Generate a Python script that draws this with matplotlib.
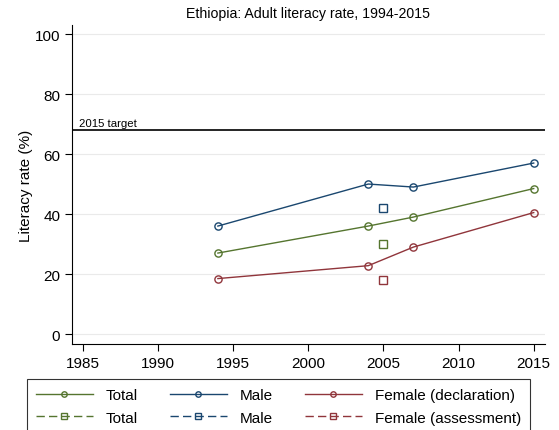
import matplotlib
matplotlib.use("Agg")
import matplotlib.pyplot as plt

plt.rcParams['font.family'] = ['Liberation Sans', 'DejaVu Sans']

# Daten
years = [1994, 2004, 2007, 2015]
total = [27, 36, 39, 48.5]
male = [36, 50, 49, 57]
female = [18.5, 22.8, 29, 40.5]

assess_year = [2005]
assess_total = [30]
assess_male = [42]
assess_female = [18]

target = 68

green = '#55752f'
navy = '#1a476f'
maroon = '#90353b'

fig = plt.figure(figsize=(5.59, 4.31), dpi=100)
ax = fig.add_axes([72 / 559, 86 / 431, 473 / 559, 319 / 431])

dash = (0, (6, 3))
ax.plot(years, total, color=green, lw=1, marker='o', mfc='none', ms=5.2, mew=1, label='Total')
ax.plot(assess_year, assess_total, color=green, lw=1, ls=dash, marker='s', mfc='none', ms=5.5, mew=1, label='Total')
ax.plot(years, male, color=navy, lw=1, marker='o', mfc='none', ms=5.2, mew=1, label='Male')
ax.plot(assess_year, assess_male, color=navy, lw=1, ls=dash, marker='s', mfc='none', ms=5.5, mew=1, label='Male')
ax.plot(years, female, color=maroon, lw=1, marker='o', mfc='none', ms=5.2, mew=1, label='Female (declaration)')
ax.plot(assess_year, assess_female, color=maroon, lw=1, ls=dash, marker='s', mfc='none', ms=5.5, mew=1, label='Female (assessment)')

ax.axhline(target, color='black', lw=1.2)
ax.text(1984.75, target + 0.6, '2015 target', fontsize=8.2, va='bottom')

ax.set_xlim(1984.3, 2015.75)
ax.set_ylim(-3.3, 103)
ax.set_xticks([1985, 1990, 1995, 2000, 2005, 2010, 2015])
ax.set_yticks([0, 20, 40, 60, 80, 100])
ax.yaxis.grid(True, color='#eaeaea', lw=0.8)
ax.set_axisbelow(True)
for s in ['top', 'right']:
    ax.spines[s].set_visible(False)
ax.tick_params(labelsize=11, length=5, width=0.8)
ax.set_ylabel('Literacy rate (%)', fontsize=11, labelpad=1)
ax.set_title('Ethiopia: Adult literacy rate, 1994-2015', fontsize=10.2, pad=6)

leg = fig.legend(loc='upper left', bbox_to_anchor=(27 / 559, 1 - 380 / 431, 503 / 559, 0),
                 mode='expand', borderaxespad=0, ncol=3, fontsize=11, handlelength=3.7,
                 handletextpad=0.85, markerscale=0.75, frameon=True, fancybox=False,
                 edgecolor='black', borderpad=0.6, labelspacing=0.55, columnspacing=2.1)
leg.get_frame().set_linewidth(0.8)

fig.savefig('out.png', dpi=100)
